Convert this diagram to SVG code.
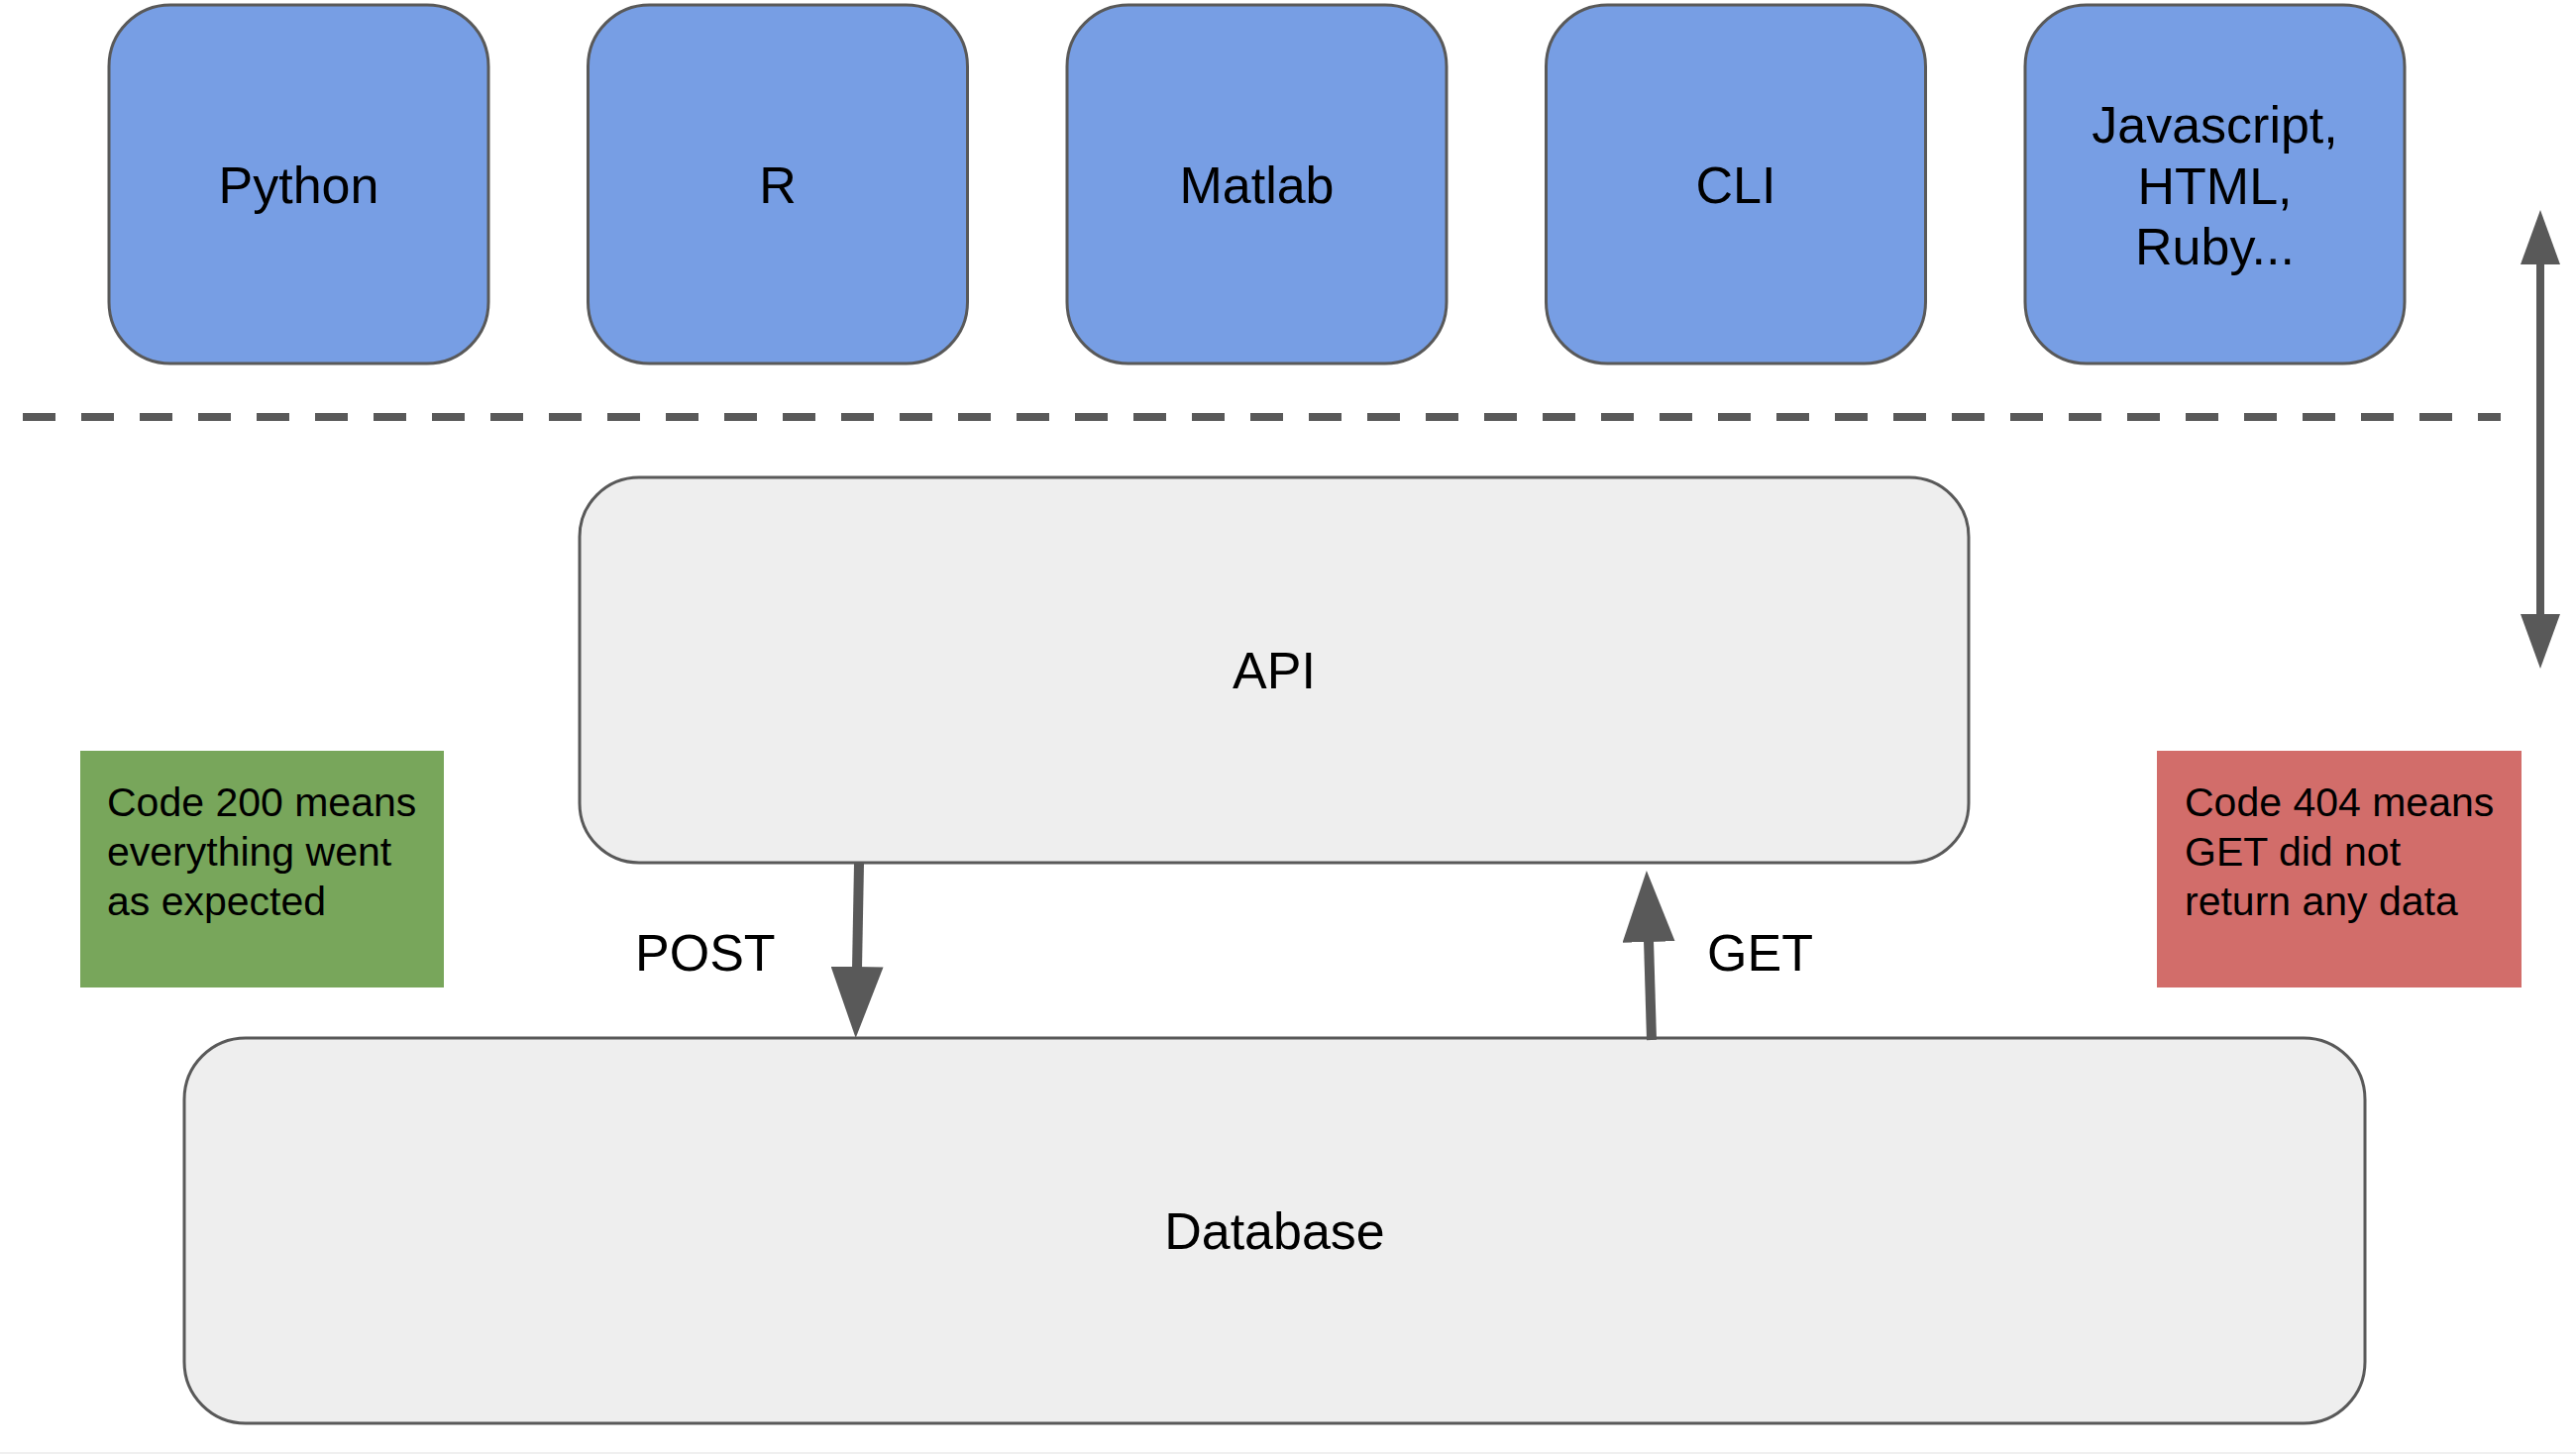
<svg xmlns="http://www.w3.org/2000/svg" width="2600" height="1468" viewBox="0 0 2600 1468">
  <style>
    .lang { fill: #779ee4; stroke: #595959; stroke-width: 3; }
    .grey { fill: #eeeeee; stroke: #595959; stroke-width: 3; }
    .lbl { font-family: "Liberation Sans", Arial, sans-serif; font-size: 52px; fill: #000; text-anchor: middle; }
    .note { font-family: "Liberation Sans", Arial, sans-serif; font-size: 41px; fill: #000; }
    .edge { font-family: "Liberation Sans", Arial, sans-serif; font-size: 52px; fill: #000; }
    .conn { stroke: #595959; fill: none; }
  </style>
  <defs>
    <marker id="headBig" markerUnits="userSpaceOnUse" markerWidth="72" markerHeight="53" viewBox="0 0 72 53" refX="2" refY="26.5" orient="auto">
      <path d="M0,0 L72,26.5 L0,53 Z" fill="#595959"/>
    </marker>
    <marker id="headSmall" markerUnits="userSpaceOnUse" markerWidth="55" markerHeight="40" viewBox="0 0 55 40" refX="1" refY="20" orient="auto-start-reverse">
      <path d="M0,0 L55,20 L0,40 Z" fill="#595959"/>
    </marker>
  </defs>
  <rect x="0" y="0" width="2600" height="1468" fill="#ffffff"/>
  <rect x="0" y="1466" width="2600" height="2" fill="#f0f0f0"/>

  <g id="python">
    <rect class="lang" x="110" y="5" width="383" height="362" rx="62" ry="62"/>
    <text class="lbl" x="301.5" y="205">Python</text>
  </g>
  <g id="r">
    <rect class="lang" x="593.5" y="5" width="383" height="362" rx="62" ry="62"/>
    <text class="lbl" x="785" y="205">R</text>
  </g>
  <g id="matlab">
    <rect class="lang" x="1077" y="5" width="383" height="362" rx="62" ry="62"/>
    <text class="lbl" x="1268.5" y="205">Matlab</text>
  </g>
  <g id="cli">
    <rect class="lang" x="1560.5" y="5" width="383" height="362" rx="62" ry="62"/>
    <text class="lbl" x="1752" y="205">CLI</text>
  </g>
  <g id="javascript">
    <rect class="lang" x="2044" y="5" width="383" height="362" rx="62" ry="62"/>
    <text class="lbl" x="2235.5" y="144">Javascript,</text>
    <text class="lbl" x="2235.5" y="206">HTML,</text>
    <text class="lbl" x="2235.5" y="267">Ruby...</text>
  </g>

  <g id="divider">
    <line x1="23" y1="421" x2="2524" y2="421" stroke="#595959" stroke-width="8" stroke-dasharray="33 26"/>
  </g>

  <g id="api">
    <rect class="grey" x="585" y="482" width="1402" height="389" rx="60" ry="60"/>
    <text class="lbl" x="1286" y="695">API</text>
  </g>
  <g id="database">
    <rect class="grey" x="186" y="1048" width="2201" height="389" rx="62" ry="62"/>
    <text class="lbl" x="1286.5" y="1261">Database</text>
  </g>

  <g id="note200">
    <rect x="81" y="758" width="367" height="239" fill="#78a65b"/>
    <text class="note" x="108" y="824">Code 200 means</text>
    <text class="note" x="108" y="874">everything went</text>
    <text class="note" x="108" y="924">as expected</text>
  </g>
  <g id="note404">
    <rect x="2177" y="758" width="368" height="239" fill="#d26d6a"/>
    <text class="note" x="2205" y="824">Code 404 means</text>
    <text class="note" x="2205" y="874">GET did not</text>
    <text class="note" x="2205" y="924">return any data</text>
  </g>

  <g id="connectors">
    <line class="conn" x1="867" y1="872" x2="865" y2="978" stroke-width="10" marker-end="url(#headBig)"/>
    <line class="conn" x1="1667" y1="1050" x2="1664" y2="949" stroke-width="10" marker-end="url(#headBig)"/>
    <line class="conn" x1="2564" y1="266" x2="2564" y2="621" stroke-width="8" marker-start="url(#headSmall)" marker-end="url(#headSmall)"/>
    <text class="edge" x="641" y="980">POST</text>
    <text class="edge" x="1723" y="980">GET</text>
  </g>
</svg>
